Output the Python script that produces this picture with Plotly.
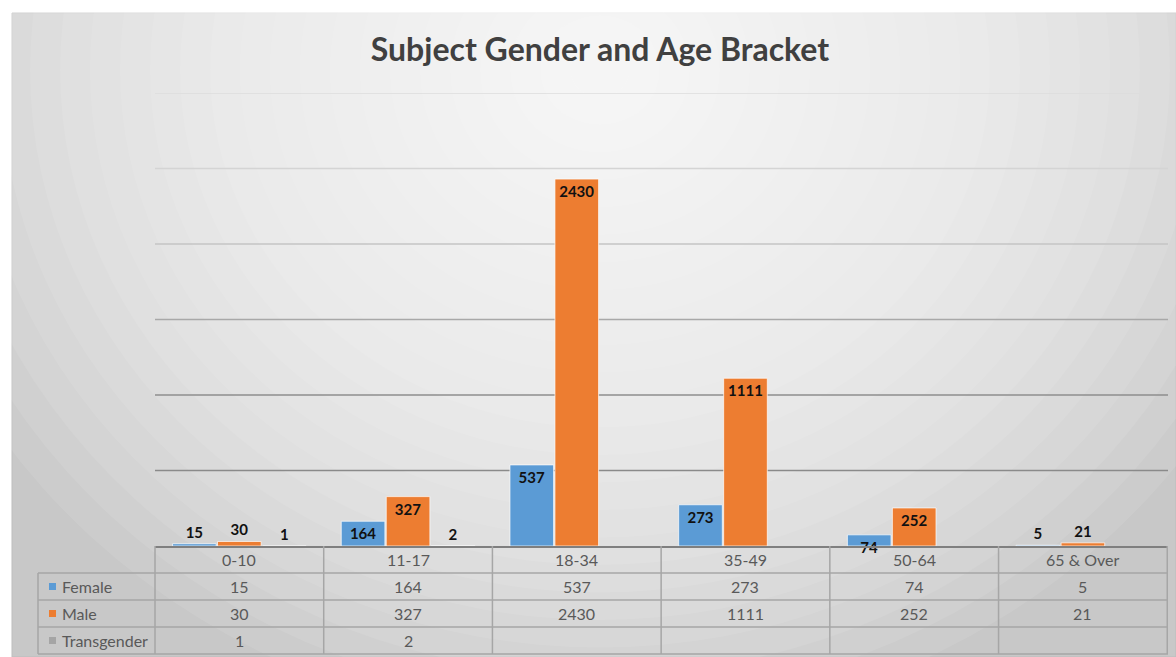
import plotly.graph_objects as go

# chart values
age_brackets = ["0-10", "11-17", "18-34", "35-49", "50-64", "65 & Over"]
female = [15, 164, 537, 273, 74, 5]
male = [30, 327, 2430, 1111, 252, 21]
transgender = [1, 2, None, None, None, None]
series_names = ["Female", "Male", "Transgender"]
grid_ticks = [500, 1000, 1500, 2000, 2500, 3000]

COLORS = ["#5b9bd5", "#ed7d31", "#a5a5a5"]
GRID_COLORS = ["#8a8a8a", "#8e8e8e", "#a8a8a8", "#c4c4c4", "#d4d4d4", "#dcdcdc"]
FONT = "Lato"
TABLE_TXT = "#595959"
TABLE_LINE = "#a6a6a6"
W, H = 1176, 657

# pixel layout of the data table under the plot
TABLE_LEFT, PLOT_LEFT, PLOT_RIGHT = 38, 155, 1168
ROW_TOP = 546
ROW_H = 27


def px(x):
    return x / W


def py(y):
    return 1 - y / H


fig = go.Figure()

series = [female, male, transgender]
for name, vals, color in zip(series_names, series, COLORS):
    fig.add_trace(go.Bar(
        x=age_brackets,
        y=vals,
        name=name,
        marker=dict(color=color, line=dict(color="rgba(255,255,255,0.7)", width=1)),
        text=[v if v is not None else "" for v in vals],
        textposition=["inside" if (v or 0) >= 60 else "outside" for v in vals],
        insidetextanchor="end",
        constraintext="none",
        textangle=0,
        cliponaxis=False,
        textfont=dict(family=FONT, size=15, color="#111111", weight="bold"),
        showlegend=False,
    ))

shapes = []
annotations = []

# gradient-ish chart background
shapes.append(dict(type="rect", xref="paper", yref="paper",
                   x0=px(12), x1=1, y0=0, y1=py(13),
                   fillcolor="#c8c8c8", line=dict(color="#bdbdbd", width=1),
                   layer="below"))
n_layers = 24
for k in range(n_layers):
    f = 1 - k / n_layers
    rx, ry = 720 * f, 660 * f
    shapes.append(dict(type="circle", xref="paper", yref="paper",
                       x0=px(600 - rx), x1=px(600 + rx),
                       y0=py(70 + ry), y1=py(70 - ry),
                       fillcolor="white", opacity=0.085,
                       line=dict(width=0), layer="below"))
for t, c in zip(grid_ticks, GRID_COLORS):
    shapes.append(dict(type="line", xref="paper", yref="y",
                       x0=px(PLOT_LEFT), x1=px(PLOT_RIGHT), y0=t, y1=t,
                       line=dict(color=c, width=1.3), layer="below"))

# data table: grid lines
n_rows = len(series_names)
table_bottom = ROW_TOP + ROW_H * (n_rows + 1)
for r in range(1, n_rows + 2):
    yl = ROW_TOP + ROW_H * r
    shapes.append(dict(type="line", xref="paper", yref="paper",
                       x0=px(TABLE_LEFT), x1=px(PLOT_RIGHT), y0=py(yl), y1=py(yl),
                       line=dict(color=TABLE_LINE, width=1.5)))
shapes.append(dict(type="line", xref="paper", yref="paper",
                   x0=px(TABLE_LEFT), x1=px(TABLE_LEFT),
                   y0=py(ROW_TOP + ROW_H), y1=py(table_bottom),
                   line=dict(color=TABLE_LINE, width=1.5)))
shapes.append(dict(type="line", xref="paper", yref="paper",
                   x0=px(PLOT_LEFT), x1=px(PLOT_LEFT),
                   y0=py(ROW_TOP), y1=py(table_bottom),
                   line=dict(color=TABLE_LINE, width=1.5)))
for i in range(len(age_brackets)):
    shapes.append(dict(type="line", xref="x", yref="paper",
                       x0=i + 0.5, x1=i + 0.5,
                       y0=py(ROW_TOP), y1=py(table_bottom),
                       line=dict(color=TABLE_LINE, width=1.5)))

# data table: header and cells
tfont = dict(family=FONT, size=16, color=TABLE_TXT)
for cat in age_brackets:
    annotations.append(dict(x=cat, xref="x", xanchor="center",
                            y=py(ROW_TOP + ROW_H / 2), yref="paper", yanchor="middle",
                            text=cat, showarrow=False, font=tfont))
for r, (name, vals, color) in enumerate(zip(series_names, series, COLORS)):
    yc = ROW_TOP + ROW_H * (r + 1.5)
    shapes.append(dict(type="rect", xref="paper", yref="paper",
                       x0=px(TABLE_LEFT + 11), x1=px(TABLE_LEFT + 18),
                       y0=py(yc + 3.5), y1=py(yc - 3.5),
                       fillcolor=color, line=dict(width=0)))
    annotations.append(dict(x=px(TABLE_LEFT + 22), xref="paper", xanchor="left",
                            y=py(yc), yref="paper", yanchor="middle", text=name,
                            showarrow=False, font=tfont))
    for cat, v in zip(age_brackets, vals):
        if v is None:
            continue
        annotations.append(dict(x=cat, xref="x", xanchor="center",
                                y=py(yc), yref="paper", yanchor="middle",
                                text=str(v), showarrow=False, font=tfont))

fig.update_layout(
    width=W, height=H,
    margin=dict(l=0, r=0, t=0, b=0),
    paper_bgcolor="white",
    plot_bgcolor="rgba(0,0,0,0)",
    shapes=shapes,
    annotations=annotations,
    barmode="group",
    bargap=0.2,
    bargroupgap=0.03,
    title=dict(
        text="Subject Gender and Age Bracket",
        x=px(600), xanchor="center", xref="paper",
        y=py(50), yanchor="middle", yref="paper",
        font=dict(family=FONT, size=32, color="#404040", weight="bold"),
    ),
    xaxis=dict(
        domain=[px(PLOT_LEFT), px(PLOT_RIGHT)],
        showticklabels=False,
        showline=True, linecolor="#7f7f7f", linewidth=1.5,
        showgrid=False, ticks="",
    ),
    yaxis=dict(
        domain=[py(ROW_TOP), py(93)],
        range=[0, 3000],
        showticklabels=False,
        showgrid=False, zeroline=False,
    ),
)

fig.write_html("out.html", config={"displayModeBar": False},
               post_script="document.body.style.margin='0px';")
